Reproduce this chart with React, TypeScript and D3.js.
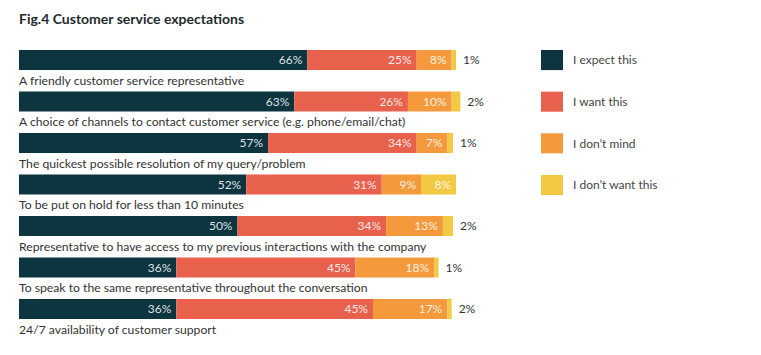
import React from "react";
import * as d3 from "d3";

const categories = [
  "A friendly customer service representative",
  "A choice of channels to contact customer service (e.g. phone/email/chat)",
  "The quickest possible resolution of my query/problem",
  "To be put on hold for less than 10 minutes",
  "Representative to have access to my previous interactions with the company",
  "To speak to the same representative throughout the conversation",
  "24/7 availability of customer support",
];

const seriesNames = ["I expect this", "I want this", "I don\u2019t mind", "I don\u2019t want this"];

// bar lengths as drawn in the picture
const expectThis = [66, 63, 57, 52, 50, 36, 36];
const wantThis = [25, 26, 34, 31, 34, 41, 45];
const dontMind = [8, 10, 7, 9, 13, 18, 17];
const dontWant = [1, 2, 1.3, 8, 2.3, 1, 1];

// printed labels
const expectLabels = ["66%", "63%", "57%", "52%", "50%", "36%", "36%"];
const wantLabels = ["25%", "26%", "34%", "31%", "34%", "45%", "45%"];
const dontMindLabels = ["8%", "10%", "7%", "9%", "13%", "18%", "17%"];
const dontWantLabels = ["1%", "2%", "1%", "8%", "2%", "1%", "2%"];

const colors = ["#0c3540", "#e8614d", "#f49a3c", "#f3c843"];

const FONT = "Lato, 'Open Sans', sans-serif";

export default function App() {
  const width = 761;
  const height = 355;
  const x = d3.scaleLinear().domain([0, 100]).range([19, 456]);
  const y = d3
    .scaleBand<number>()
    .domain(d3.range(categories.length))
    .range([50, 319])
    .paddingInner(0.518)
    .paddingOuter(0);
  const bw = y.bandwidth();

  const series = [expectThis, wantThis, dontMind, dontWant];
  const labels = [expectLabels, wantLabels, dontMindLabels, dontWantLabels];

  const legendY = d3
    .scaleBand<number>()
    .domain(d3.range(4))
    .range([50, 195])
    .paddingInner(0.518)
    .paddingOuter(0);

  return (
    <svg
      width={width}
      height={height}
      style={{ position: "absolute", left: 0, top: 0, background: "#fff" }}
      fontFamily={FONT}
    >
      <text x={19} y={24} fontSize={14} fontWeight={700} fill="#1f2b2d">
        Fig.4 Customer service expectations
      </text>
      {categories.map((cat, i) => {
        let acc = 0;
        const y0 = y(i)!;
        return (
          <g key={cat}>
            {series.map((s, k) => {
              const start = acc;
              acc += s[i];
              const x0 = x(start);
              const x1 = x(acc);
              const inside = x1 - x0 > 24;
              return (
                <g key={k}>
                  <rect x={x0} y={y0} width={x1 - x0} height={bw} fill={colors[k]} />
                  {inside ? (
                    <text
                      x={x1 - 5}
                      y={y0 + bw / 2}
                      dy="0.35em"
                      textAnchor="end"
                      fontSize={12}
                      fill="#fff"
                      fillOpacity={0.88}
                    >
                      {labels[k][i]}
                    </text>
                  ) : (
                    <text
                      x={x1 + 7}
                      y={y0 + bw / 2}
                      dy="0.35em"
                      textAnchor="start"
                      fontSize={12}
                      fill="#333"
                    >
                      {labels[k][i]}
                    </text>
                  )}
                </g>
              );
            })}
            <text x={19} y={y0 + bw + 14.5} fontSize={12.2} fill="#333">
              {cat}
            </text>
          </g>
        );
      })}
      {seriesNames.map((name, k) => {
        const ly = legendY(k)!;
        return (
          <g key={name}>
            <rect x={541} y={ly} width={22} height={legendY.bandwidth()} fill={colors[k]} />
            <text x={573} y={ly + legendY.bandwidth() / 2} dy="0.35em" fontSize={12} fill="#444">
              {name}
            </text>
          </g>
        );
      })}
    </svg>
  );
}
